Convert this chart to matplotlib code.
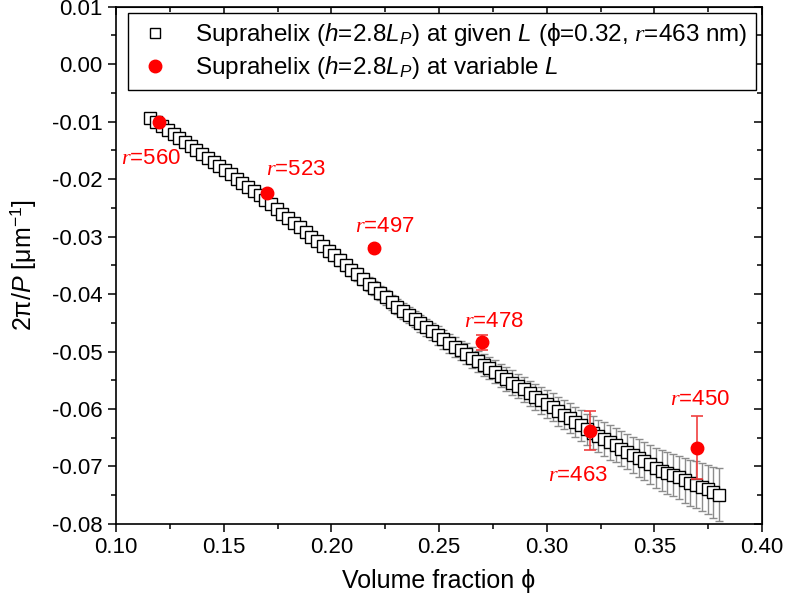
import matplotlib
matplotlib.use('Agg')
import matplotlib.pyplot as plt
from matplotlib.ticker import MultipleLocator, FormatStrFormatter
from matplotlib.lines import Line2D

plt.rcParams['font.family'] = ['Liberation Sans', 'DejaVu Sans']
plt.rcParams['mathtext.fontset'] = 'custom'
plt.rcParams['mathtext.rm'] = 'Liberation Sans'
plt.rcParams['mathtext.it'] = 'Liberation Serif:italic'
plt.rcParams['mathtext.sf'] = 'Liberation Sans:italic'
plt.rcParams['mathtext.fallback'] = 'stixsans'
plt.rcParams['axes.unicode_minus'] = False

# suprahelix at given L (simulation grid)
phi_given = [
    0.1160, 0.1187, 0.1213, 0.1240, 0.1267, 0.1293, 0.1320, 0.1347, 0.1373, 0.1400,
    0.1427, 0.1453, 0.1480, 0.1507, 0.1533, 0.1560, 0.1587, 0.1613, 0.1640, 0.1667,
    0.1693, 0.1720, 0.1747, 0.1773, 0.1800, 0.1827, 0.1853, 0.1880, 0.1907, 0.1933,
    0.1960, 0.1987, 0.2013, 0.2040, 0.2067, 0.2093, 0.2120, 0.2147, 0.2173, 0.2200,
    0.2227, 0.2253, 0.2280, 0.2307, 0.2333, 0.2360, 0.2387, 0.2413, 0.2440, 0.2467,
    0.2493, 0.2520, 0.2547, 0.2573, 0.2600, 0.2627, 0.2653, 0.2680, 0.2707, 0.2733,
    0.2760, 0.2787, 0.2813, 0.2840, 0.2867, 0.2893, 0.2920, 0.2947, 0.2973, 0.3000,
    0.3027, 0.3053, 0.3080, 0.3107, 0.3133, 0.3160, 0.3187, 0.3213, 0.3240, 0.3267,
    0.3293, 0.3320, 0.3347, 0.3373, 0.3400, 0.3427, 0.3453, 0.3480, 0.3507, 0.3533,
    0.3560, 0.3587, 0.3613, 0.3640, 0.3667, 0.3693, 0.3720, 0.3747, 0.3773, 0.3800]
q_given = [
    -0.0093, -0.0100, -0.0107, -0.0114, -0.0121, -0.0128, -0.0136, -0.0143, -0.0150, -0.0157,
    -0.0164, -0.0171, -0.0178, -0.0185, -0.0192, -0.0200, -0.0207, -0.0214, -0.0221, -0.0228,
    -0.0236, -0.0244, -0.0252, -0.0260, -0.0268, -0.0276, -0.0284, -0.0292, -0.0300, -0.0308,
    -0.0317, -0.0325, -0.0333, -0.0341, -0.0350, -0.0358, -0.0366, -0.0374, -0.0382, -0.0390,
    -0.0398, -0.0406, -0.0414, -0.0422, -0.0430, -0.0437, -0.0444, -0.0451, -0.0458, -0.0465,
    -0.0472, -0.0479, -0.0486, -0.0492, -0.0498, -0.0504, -0.0511, -0.0517, -0.0523, -0.0529,
    -0.0535, -0.0542, -0.0548, -0.0554, -0.0560, -0.0566, -0.0573, -0.0579, -0.0585, -0.0591,
    -0.0597, -0.0604, -0.0610, -0.0616, -0.0622, -0.0628, -0.0635, -0.0641, -0.0647, -0.0652,
    -0.0658, -0.0663, -0.0669, -0.0674, -0.0680, -0.0685, -0.0691, -0.0696, -0.0702, -0.0707,
    -0.0711, -0.0715, -0.0719, -0.0724, -0.0728, -0.0732, -0.0736, -0.0740, -0.0745, -0.0749]
err_given = [
    0.0002, 0.0002, 0.0003, 0.0003, 0.0003, 0.0003, 0.0004, 0.0004, 0.0004, 0.0004,
    0.0005, 0.0005, 0.0005, 0.0005, 0.0005, 0.0006, 0.0006, 0.0006, 0.0006, 0.0007,
    0.0007, 0.0007, 0.0007, 0.0008, 0.0008, 0.0008, 0.0008, 0.0009, 0.0009, 0.0009,
    0.0009, 0.0010, 0.0010, 0.0010, 0.0010, 0.0011, 0.0011, 0.0011, 0.0012, 0.0012,
    0.0012, 0.0013, 0.0013, 0.0013, 0.0014, 0.0014, 0.0014, 0.0015, 0.0015, 0.0015,
    0.0016, 0.0016, 0.0016, 0.0017, 0.0017, 0.0018, 0.0018, 0.0018, 0.0019, 0.0019,
    0.0020, 0.0020, 0.0021, 0.0021, 0.0021, 0.0022, 0.0022, 0.0023, 0.0023, 0.0024,
    0.0024, 0.0025, 0.0025, 0.0026, 0.0026, 0.0027, 0.0027, 0.0028, 0.0028, 0.0029,
    0.0030, 0.0030, 0.0031, 0.0031, 0.0032, 0.0033, 0.0033, 0.0034, 0.0035, 0.0035,
    0.0036, 0.0037, 0.0038, 0.0039, 0.0040, 0.0041, 0.0042, 0.0043, 0.0044, 0.0046]

# suprahelix at variable L
phi_var = [0.12, 0.17, 0.22, 0.27, 0.32, 0.37]
q_var = [-0.0101, -0.0225, -0.0320, -0.0484, -0.0638, -0.0667]
err_var = [0.0002, 0.0002, 0.0003, 0.0013, 0.0034, 0.0055]
r_labels = ['560', '523', '497', '478', '463', '450']
label_x = [0.1163, 0.1836, 0.2249, 0.2756, 0.3146, 0.3712]
label_y = [-0.0164, -0.0184, -0.0282, -0.0447, -0.0716, -0.0584]

fig = plt.figure(figsize=(7.86, 6.08), dpi=100)
ax = fig.add_axes([0.1476, 0.1382, 0.822, 0.851])

ax.errorbar(phi_given, q_given, yerr=err_given, fmt='s', ms=8, mfc='white',
            mec='black', mew=1.0, ecolor='#8c8c8c', elinewidth=1.0,
            capsize=3, capthick=1.0, zorder=2)
ax.errorbar(phi_var, q_var, yerr=err_var, fmt='o', ms=9, mfc='red', mec='red',
            ecolor='#f04040', elinewidth=1.2, capsize=4, capthick=1.2, zorder=3)

for lx, ly, lab in zip(label_x, label_y, r_labels):
    ax.text(lx, ly, r'$\mathit{r}$=' + lab, color='red', fontsize=16,
            ha='center', va='center')

ax.set_xlim(0.10, 0.40)
ax.set_ylim(-0.08, 0.01)
ax.xaxis.set_major_locator(MultipleLocator(0.05))
ax.xaxis.set_minor_locator(MultipleLocator(0.025))
ax.yaxis.set_major_locator(MultipleLocator(0.01))
ax.yaxis.set_minor_locator(MultipleLocator(0.005))
ax.xaxis.set_major_formatter(FormatStrFormatter('%.2f'))
ax.yaxis.set_major_formatter(FormatStrFormatter('%.2f'))
ax.tick_params(which='both', direction='out', labelsize=16, width=1.1)
ax.tick_params(which='major', length=6)
ax.tick_params(which='minor', length=3.5)
for sp in ax.spines.values():
    sp.set_linewidth(1.2)

top = ax.secondary_xaxis('top')
top.xaxis.set_major_locator(MultipleLocator(0.05))
top.xaxis.set_minor_locator(MultipleLocator(0.025))
top.tick_params(which='both', direction='in', labeltop=False, width=1.1)
top.tick_params(which='major', length=6)
top.tick_params(which='minor', length=3.5)
right = ax.secondary_yaxis('right')
right.yaxis.set_major_locator(MultipleLocator(0.01))
right.yaxis.set_minor_locator(MultipleLocator(0.005))
right.tick_params(which='both', direction='in', labelright=False, width=1.1)
right.tick_params(which='major', length=6)
right.tick_params(which='minor', length=3.5)

ax.set_xlabel('Volume fraction ϕ', fontsize=18, labelpad=8)
ax.set_ylabel(r'2$\mathrm{\pi}$/$\mathsf{P}$ [μm$^{\mathrm{-1}}$]', fontsize=18, labelpad=10)

h1 = Line2D([], [], ls='none', marker='s', ms=7, mfc='white', mec='black', mew=1.0)
h2 = Line2D([], [], ls='none', marker='o', ms=9, mfc='red', mec='red')
ax.legend([h1, h2],
          [r'Suprahelix ($\mathsf{h}$=2.8$\mathsf{L}_{\mathsf{P}}$) at given $\mathsf{L}$ (ϕ=0.32, $\mathit{r}$=463 nm)',
           r'Suprahelix ($\mathsf{h}$=2.8$\mathsf{L}_{\mathsf{P}}$) at variable $\mathsf{L}$'],
          loc='upper right', fontsize=17.5, frameon=True, fancybox=False,
          edgecolor='black', framealpha=1, borderpad=0.35, handletextpad=0.9,
          labelspacing=0.25, borderaxespad=0.25, handlelength=1.5)
ax.get_legend().get_frame().set_linewidth(1.0)

fig.savefig('out.png', dpi=100)
